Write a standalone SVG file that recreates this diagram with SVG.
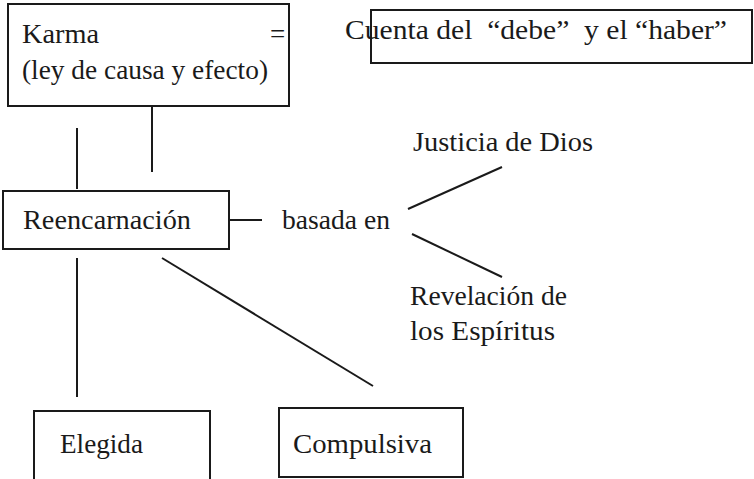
<svg xmlns="http://www.w3.org/2000/svg" width="754" height="479" viewBox="0 0 754 479">
<style>
.box{fill:none;stroke:#1a1a1a;stroke-width:2}
.ln{stroke:#1a1a1a;stroke-width:2;fill:none}
text{font-family:"Liberation Serif","Times New Roman",serif;font-size:27px;fill:#1a1a1a}
</style>
<rect width="754" height="479" fill="#fff"/>
<g id="karma">
<rect class="box" x="8" y="4" width="281" height="102"/>
<text x="22" y="43" textLength="77" lengthAdjust="spacingAndGlyphs">Karma</text>
<text x="270" y="43">=</text>
<text x="22" y="79" textLength="246" lengthAdjust="spacingAndGlyphs">(ley de causa y efecto)</text>
</g>
<g id="cuenta">
<text x="345" y="39" xml:space="preserve" textLength="382" lengthAdjust="spacingAndGlyphs">Cuenta del  “debe”  y el “haber”</text>
<rect class="box" x="371" y="10" width="381" height="53"/>
</g>
<g id="reencarnacion">
<rect class="box" x="3" y="191" width="226" height="58"/>
<text x="23" y="229" textLength="168" lengthAdjust="spacingAndGlyphs">Reencarnación</text>
</g>
<g id="basada"><text x="282" y="229" textLength="108" lengthAdjust="spacingAndGlyphs">basada en</text></g>
<g id="justicia"><text x="413" y="151" textLength="180" lengthAdjust="spacingAndGlyphs">Justicia de Dios</text></g>
<g id="revelacion">
<text x="410" y="305" textLength="157" lengthAdjust="spacingAndGlyphs">Revelación de</text>
<text x="410" y="340" textLength="145" lengthAdjust="spacingAndGlyphs">los Espíritus</text>
</g>
<g id="elegida">
<rect class="box" x="34" y="411" width="176" height="69"/>
<text x="60" y="453" textLength="83" lengthAdjust="spacingAndGlyphs">Elegida</text>
</g>
<g id="compulsiva">
<rect class="box" x="279" y="408" width="184" height="69"/>
<text x="293" y="453" textLength="139" lengthAdjust="spacingAndGlyphs">Compulsiva</text>
</g>
<g id="connectors">
<line class="ln" x1="152" y1="106" x2="152" y2="172"/>
<line class="ln" x1="77" y1="128" x2="77" y2="189"/>
<line class="ln" x1="229" y1="220" x2="262" y2="220"/>
<line class="ln" x1="408" y1="209" x2="502" y2="167"/>
<line class="ln" x1="412" y1="234" x2="502" y2="277"/>
<line class="ln" x1="77" y1="258" x2="77" y2="397"/>
<line class="ln" x1="162" y1="258" x2="373" y2="386"/>
</g>
</svg>
